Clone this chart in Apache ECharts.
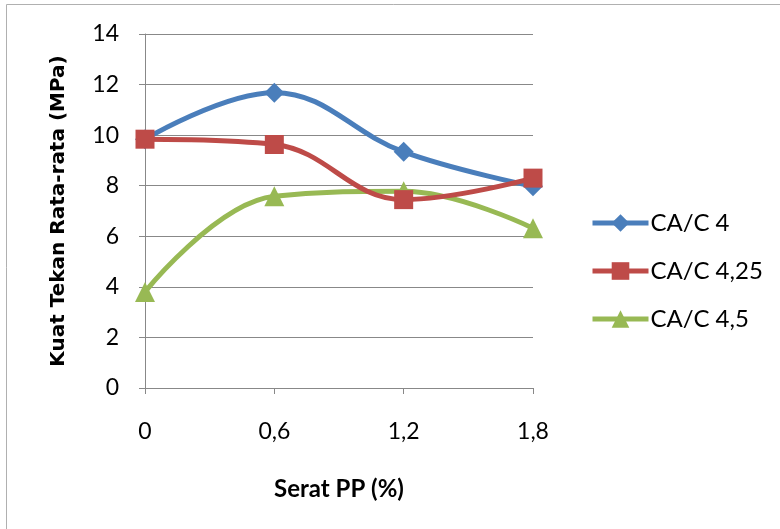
<!DOCTYPE html>
<html>
<head>
<meta charset="utf-8">
<script src="https://cdn.jsdelivr.net/npm/echarts@6/dist/echarts.min.js"></script>
<style>html,body{margin:0;padding:0;background:#fff;}#c{width:780px;height:529px;}</style>
</head>
<body>
<div id="c"></div>
<script>
const categories = ['0', '0,6', '1,2', '1,8'];
const seriesNames = ['CA/C 4', 'CA/C 4,25', 'CA/C 4,5'];
const caC4 = [9.84, 11.68, 9.34, 7.98];
const caC425 = [9.84, 9.63, 7.45, 8.3];
const caC45 = [3.8, 7.58, 7.78, 6.32];
const yTicks = [0, 2, 4, 6, 8, 10, 12, 14];

const colors = ['#4a7ebb', '#be4b48', '#98b954'];
const symbols = ['diamond', 'rect', 'triangle'];
const symbolSizes = [20, 19, 20];
const dataArr = [caC4, caC425, caC45];

const chart = echarts.init(document.getElementById('c'), null, {renderer: 'canvas'});
const font = 'Lato, "Open Sans", sans-serif';
chart.setOption({
  animation: false,
  backgroundColor: '#fff',
  graphic: [{
    type: 'rect', shape: {x: 6.5, y: 4.5, width: 900, height: 700},
    style: {fill: 'none', stroke: '#b0b0b0', lineWidth: 1}, silent: true, z: -10
  }],
  grid: {left: 145, right: 247, top: 34, bottom: 141, containLabel: false},
  legend: {
    orient: 'vertical', left: 590, top: 211, padding: 0, itemWidth: 56, itemHeight: 22, itemGap: 24,
    data: seriesNames,
    lineStyle: {width: 5},
    textStyle: {fontFamily: font, fontSize: 24, color: '#000', padding: [0, 0, 0, -3]}
  },
  xAxis: {
    type: 'category', data: categories, boundaryGap: false,
    axisLine: {lineStyle: {color: '#888', width: 1}},
    axisTick: {show: true, alignWithLabel: true, length: 6, lineStyle: {color: '#888'}},
    axisLabel: {fontFamily: font, fontSize: 23, color: '#000', margin: 32},
    name: 'Serat PP (%)', nameLocation: 'middle', nameGap: 89,
    nameTextStyle: {fontFamily: font, fontSize: 24, fontWeight: 'bold', color: '#000'},
    splitLine: {show: false}
  },
  yAxis: {
    type: 'value', min: yTicks[0], max: yTicks[yTicks.length - 1], interval: 2,
    axisLine: {show: true, lineStyle: {color: '#888', width: 1}},
    axisTick: {show: true, length: 6, lineStyle: {color: '#888'}},
    axisLabel: {fontFamily: font, fontSize: 23, color: '#000', margin: 26},
    splitLine: {show: true, lineStyle: {color: '#888', width: 1}},
    name: 'Kuat Tekan Rata-rata (MPa)', nameLocation: 'middle', nameGap: 76, nameRotate: 90,
    nameTextStyle: {fontFamily: '"DejaVu Sans", sans-serif', fontSize: 20, fontWeight: 'bold', color: '#000'}
  },
  series: seriesNames.map((n, i) => ({
    name: n, type: 'line', data: dataArr[i], smooth: 0.4,
    symbol: symbols[i], symbolSize: symbolSizes[i],
    lineStyle: {color: colors[i], width: 5},
    itemStyle: {color: colors[i]},
    z: 2 + (i === 1 ? 1 : 0)
  }))
});
</script>
</body>
</html>
